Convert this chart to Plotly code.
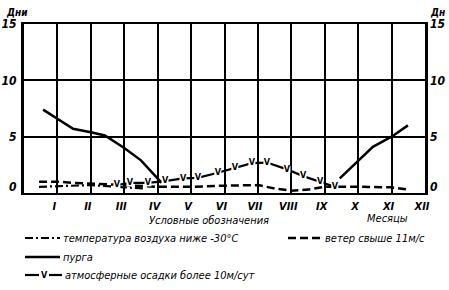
import plotly.graph_objects as go

# ---- data ----
months_roman = ["I", "II", "III", "IV", "V", "VI", "VII", "VIII", "IX", "X", "XI", "XII"]
month_pos = list(range(1, 13))
y_tick_vals = [0.55, 5, 10, 15]
y_tick_text = ["0", "5", "10", "15"]
y_grid_vals = [5, 10]

# пурга (blizzard) – two segments (winter start / winter end)
purga_x1 = [0.57, 1.0, 1.47, 2.0, 2.42, 3.0, 3.5, 4.12]
purga_y1 = [7.4, 6.6, 5.7, 5.4, 5.1, 4.0, 2.9, 0.9]
purga_x2 = [9.45, 10.0, 10.44, 11.0, 11.49]
purga_y2 = [1.3, 2.9, 4.1, 5.0, 6.0]

# ветер свыше 11 м/с (wind)
wind_x = [0.45, 1.0, 1.5, 2.0, 3.0, 4.0, 5.0, 6.0, 7.0, 7.5, 8.0, 8.5, 9.0, 10.0, 11.0, 11.5]
wind_y = [1.0, 1.0, 0.9, 0.85, 0.7, 0.55, 0.55, 0.65, 0.7, 0.4, 0.2, 0.3, 0.55, 0.55, 0.5, 0.3]

# температура воздуха ниже -30°C
temp_x = [0.45, 1.0, 2.0, 3.0, 3.6]
temp_y = [0.55, 0.6, 0.7, 0.5, 0.4]

# атмосферные осадки более 10 мм/сут
prec_x = [2.78, 3.17, 3.71, 4.22, 4.76, 5.2, 5.8, 6.31, 6.82, 7.27, 7.87, 8.35, 8.86, 9.3]
prec_y = [0.7, 0.9, 0.9, 1.05, 1.3, 1.35, 1.8, 2.2, 2.65, 2.7, 2.1, 1.5, 1.0, 0.55]

FONT = "DejaVu Sans Condensed, Liberation Sans Narrow, sans-serif"

fig = go.Figure()
fig.add_trace(go.Scatter(x=purga_x1, y=purga_y1, mode="lines",
                         line=dict(color="black", width=2.5), hoverinfo="skip"))
fig.add_trace(go.Scatter(x=purga_x2, y=purga_y2, mode="lines",
                         line=dict(color="black", width=2.5), hoverinfo="skip"))
fig.add_trace(go.Scatter(x=wind_x, y=wind_y, mode="lines",
                         line=dict(color="black", width=2.5, dash="8px,4px"), hoverinfo="skip"))
fig.add_trace(go.Scatter(x=temp_x, y=temp_y, mode="lines",
                         line=dict(color="black", width=2.2, dash="8px,3px,2px,3px"), hoverinfo="skip"))
fig.add_trace(go.Scatter(x=prec_x, y=prec_y, mode="lines+markers+text",
                         line=dict(color="black", width=2.2),
                         marker=dict(symbol="square", size=7, color="white"),
                         text=["V"] * len(prec_x), textposition="middle center",
                         textfont=dict(family=FONT, size=9, color="black", weight="bold"),
                         hoverinfo="skip"))
# invisible trace for right axis
fig.add_trace(go.Scatter(x=[0], y=[0], yaxis="y2", mode="markers",
                         marker=dict(opacity=0), hoverinfo="skip"))

axis_font = dict(family=FONT, size=12, color="black", style="italic", weight="bold")
fig.update_layout(
    width=449, height=290,
    margin=dict(l=24, r=24, t=24, b=97),
    paper_bgcolor="white", plot_bgcolor="white",
    showlegend=False,
    xaxis=dict(range=[0, 12], tickvals=month_pos, ticktext=months_roman, automargin=False,
               showgrid=True, gridcolor="black", gridwidth=2,
               showline=True, linecolor="black", linewidth=2, mirror=True,
               zeroline=False, ticks="", ticklabelshift=-3, ticklabelstandoff=2,
               tickfont=dict(family=FONT, size=11, color="black", style="italic", weight="bold")),
    yaxis=dict(range=[0, 15], tickvals=y_tick_vals, ticktext=y_tick_text, automargin=False,
               showgrid=False,
               minor=dict(tickvals=y_grid_vals, showgrid=True, gridcolor="black", gridwidth=2, ticks=""),
               showline=True, linecolor="black", linewidth=3, mirror=True,
               zeroline=False, ticks="", tickfont=axis_font, ticklabelstandoff=2),
    yaxis2=dict(range=[0, 15], tickvals=y_tick_vals, ticktext=y_tick_text, automargin=False,
                overlaying="y", side="right",
                showgrid=False, showline=False, zeroline=False, ticks="",
                tickfont=axis_font, ticklabelstandoff=4),
)

def px(x):
    return (x - 24) / 401

def py(y):
    return (193 - y) / 169

ann_font = dict(family=FONT, size=11, color="black", style="italic")
anns = [
    dict(text="Дни", x=px(4), y=py(12), xanchor="left", yanchor="middle",
         font=dict(family=FONT, size=10, color="black", style="italic", weight="bold")),
    dict(text="Дн", x=px(428), y=py(12), xanchor="left", yanchor="middle",
         font=dict(family=FONT, size=10, color="black", style="italic", weight="bold")),
    dict(text="Условные обозначения", x=px(209), y=py(220), xanchor="center", yanchor="middle", font=ann_font),
    dict(text="Месяцы", x=px(387), y=py(219), xanchor="center", yanchor="middle", font=ann_font),
    dict(text="температура воздуха ниже -30°C", x=px(61), y=py(238), xanchor="left", yanchor="middle", font=ann_font),
    dict(text="ветер свыше 11м/с", x=px(323), y=py(238), xanchor="left", yanchor="middle", font=ann_font),
    dict(text="пурга", x=px(61), y=py(257), xanchor="left", yanchor="middle", font=ann_font),
    dict(text="атмосферные осадки более 10м/сут", x=px(63), y=py(275), xanchor="left", yanchor="middle", font=ann_font),
    dict(text="V", x=px(44), y=py(275), xanchor="center", yanchor="middle",
         font=dict(family=FONT, size=9, color="black", weight="bold")),
]
for a in anns:
    a.update(xref="paper", yref="paper", showarrow=False)
    fig.add_annotation(**a)

shapes = [
    dict(x0=px(25), x1=px(60), y0=py(238), y1=py(238), line=dict(color="black", width=2, dash="8px,3px,2px,3px")),
    dict(x0=px(288), x1=px(322), y0=py(238), y1=py(238), line=dict(color="black", width=2.5, dash="8px,4px")),
    dict(x0=px(25), x1=px(60), y0=py(257), y1=py(257), line=dict(color="black", width=2.5)),
    dict(x0=px(25), x1=px(39), y0=py(275), y1=py(275), line=dict(color="black", width=2.2)),
    dict(x0=px(49), x1=px(62), y0=py(275), y1=py(275), line=dict(color="black", width=2.2)),
]
for s in shapes:
    s.update(type="line", xref="paper", yref="paper")
    fig.add_shape(**s)

fig.write_html("out.html")
